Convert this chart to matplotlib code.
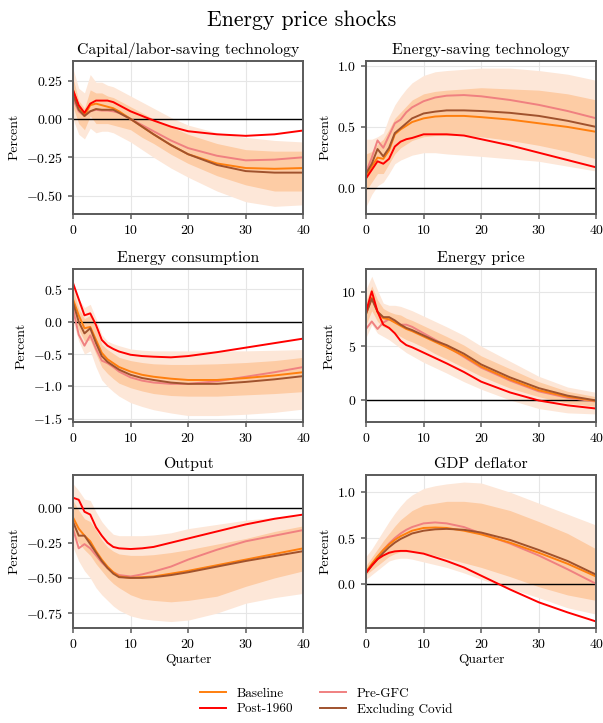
import matplotlib
matplotlib.use('Agg')
import matplotlib.pyplot as plt

plt.rcParams.update({
    'font.family': 'serif',
    'font.serif': ['cmr10', 'DejaVu Serif'],
    'mathtext.fontset': 'cm',
    'axes.formatter.use_mathtext': True,
    'font.size': 10,
    'axes.edgecolor': '#5a5a5a',
    'axes.linewidth': 1.4,
})

ORANGE = '#ff7f0e'
RED = '#ff0000'
SALMON = '#f08080'
BROWN = '#a0522d'
BAND_OUT = '#fde7d8'
BAND_IN = '#fdcca5'

Q = [0, 1, 2, 3, 4, 5, 6, 7, 8, 10, 12, 14, 17, 20, 25, 30, 35, 40]

titles = ['Capital/labor-saving technology', 'Energy-saving technology',
          'Energy consumption', 'Energy price', 'Output', 'GDP deflator']

# ---- Capital/labor-saving technology
cap_base = [0.19, 0.08, 0.02, 0.09, 0.10, 0.09, 0.08, 0.07, 0.05, 0.00, -0.05, -0.10, -0.17, -0.23, -0.29, -0.32, -0.325, -0.32]
cap_post = [0.19, 0.09, 0.04, 0.10, 0.12, 0.12, 0.12, 0.11, 0.09, 0.05, 0.02, -0.01, -0.05, -0.08, -0.10, -0.11, -0.10, -0.075]
cap_pre = [0.13, 0.05, 0.02, 0.05, 0.06, 0.055, 0.055, 0.05, 0.04, 0.00, -0.04, -0.08, -0.14, -0.19, -0.24, -0.27, -0.265, -0.25]
cap_excl = [0.16, 0.06, 0.02, 0.05, 0.065, 0.06, 0.06, 0.06, 0.04, 0.00, -0.05, -0.10, -0.17, -0.23, -0.30, -0.34, -0.35, -0.35]
cap_hi90 = [0.33, 0.20, 0.17, 0.29, 0.24, 0.24, 0.22, 0.21, 0.19, 0.15, 0.11, 0.07, 0.01, -0.04, -0.09, -0.12, -0.14, -0.15]
cap_lo90 = [0.0, -0.10, -0.13, -0.06, -0.09, -0.08, -0.08, -0.09, -0.11, -0.15, -0.20, -0.25, -0.32, -0.38, -0.47, -0.54, -0.57, -0.56]
cap_hi68 = [0.27, 0.12, 0.07, 0.19, 0.17, 0.17, 0.15, 0.14, 0.12, 0.08, 0.04, 0.0, -0.05, -0.10, -0.16, -0.20, -0.21, -0.21]
cap_lo68 = [0.08, -0.03, -0.07, 0.02, -0.03, -0.03, -0.03, -0.04, -0.05, -0.07, -0.12, -0.16, -0.23, -0.29, -0.37, -0.43, -0.47, -0.47]

# ---- Energy-saving technology
es_base = [0.10, 0.18, 0.25, 0.24, 0.31, 0.44, 0.48, 0.51, 0.54, 0.57, 0.585, 0.59, 0.59, 0.58, 0.56, 0.53, 0.50, 0.46]
es_post = [0.08, 0.15, 0.22, 0.20, 0.24, 0.34, 0.38, 0.40, 0.41, 0.44, 0.44, 0.44, 0.43, 0.40, 0.35, 0.29, 0.23, 0.17]
es_pre = [0.13, 0.25, 0.39, 0.33, 0.43, 0.53, 0.56, 0.62, 0.66, 0.71, 0.74, 0.755, 0.76, 0.75, 0.72, 0.68, 0.63, 0.57]
es_excl = [0.12, 0.20, 0.32, 0.26, 0.33, 0.45, 0.49, 0.53, 0.57, 0.61, 0.625, 0.635, 0.635, 0.63, 0.615, 0.59, 0.55, 0.50]
es_hi90 = [0.40, 0.40, 0.42, 0.45, 0.58, 0.68, 0.75, 0.81, 0.86, 0.92, 0.95, 0.96, 0.97, 0.98, 0.98, 0.96, 0.93, 0.88]
es_lo90 = [-0.15, -0.05, 0.02, 0.05, 0.12, 0.20, 0.23, 0.25, 0.27, 0.29, 0.29, 0.28, 0.27, 0.26, 0.24, 0.22, 0.18, 0.14]
es_hi68 = [0.28, 0.30, 0.36, 0.40, 0.48, 0.57, 0.62, 0.67, 0.72, 0.77, 0.79, 0.80, 0.81, 0.82, 0.81, 0.80, 0.77, 0.72]
es_lo68 = [-0.02, 0.05, 0.12, 0.12, 0.20, 0.28, 0.33, 0.36, 0.39, 0.42, 0.43, 0.43, 0.43, 0.42, 0.39, 0.35, 0.30, 0.24]

# ---- Energy consumption
ec_base = [0.35, 0.10, -0.10, -0.08, -0.28, -0.48, -0.58, -0.64, -0.70, -0.77, -0.82, -0.85, -0.88, -0.90, -0.90, -0.87, -0.83, -0.78]
ec_post = [0.60, 0.35, 0.10, 0.13, -0.05, -0.28, -0.37, -0.42, -0.46, -0.51, -0.53, -0.54, -0.55, -0.53, -0.47, -0.40, -0.33, -0.26]
ec_pre = [0.20, -0.20, -0.37, -0.21, -0.42, -0.60, -0.64, -0.70, -0.77, -0.86, -0.91, -0.94, -0.96, -0.96, -0.92, -0.85, -0.78, -0.70]
ec_excl = [0.30, 0.00, -0.18, -0.10, -0.33, -0.53, -0.62, -0.68, -0.74, -0.82, -0.87, -0.90, -0.94, -0.96, -0.96, -0.93, -0.89, -0.84]
ec_hi90 = [0.65, 0.35, 0.22, 0.27, 0.05, -0.20, -0.30, -0.34, -0.37, -0.42, -0.44, -0.45, -0.45, -0.45, -0.45, -0.45, -0.44, -0.43]
ec_lo90 = [0.0, -0.30, -0.50, -0.45, -0.70, -0.90, -1.00, -1.08, -1.15, -1.25, -1.31, -1.36, -1.41, -1.45, -1.45, -1.43, -1.40, -1.35]
ec_hi68 = [0.50, 0.20, 0.05, 0.10, -0.10, -0.35, -0.43, -0.49, -0.55, -0.60, -0.63, -0.65, -0.66, -0.66, -0.65, -0.63, -0.60, -0.55]
ec_lo68 = [0.15, -0.12, -0.30, -0.28, -0.50, -0.70, -0.80, -0.88, -0.95, -1.02, -1.07, -1.11, -1.14, -1.15, -1.15, -1.13, -1.11, -1.08]

# ---- Energy price
ep_base = [8.0, 9.5, 8.2, 7.6, 7.5, 7.2, 6.9, 6.6, 6.4, 5.9, 5.4, 4.9, 4.1, 3.1, 1.9, 0.9, 0.3, -0.1]
ep_post = [8.2, 10.1, 8.2, 7.0, 6.7, 6.2, 5.5, 5.1, 4.9, 4.4, 3.9, 3.4, 2.6, 1.7, 0.7, -0.05, -0.5, -0.8]
ep_pre = [6.6, 7.3, 6.6, 7.2, 7.5, 7.3, 7.0, 7.0, 6.8, 6.2, 5.6, 5.0, 4.0, 3.0, 1.8, 0.8, 0.2, -0.15]
ep_excl = [8.0, 9.4, 8.2, 7.7, 7.7, 7.4, 7.0, 6.7, 6.5, 6.0, 5.5, 5.1, 4.3, 3.3, 2.1, 1.1, 0.4, -0.05]
ep_hi90 = [10.3, 11.5, 10.2, 9.0, 8.8, 8.8, 8.7, 8.5, 8.3, 7.8, 7.3, 6.8, 6.0, 5.0, 3.6, 2.2, 1.2, 0.7]
ep_lo90 = [5.8, 7.0, 6.2, 5.9, 5.6, 5.2, 4.8, 4.4, 4.1, 3.5, 3.0, 2.5, 1.7, 1.0, 0.0, -0.8, -1.2, -1.3]
ep_hi68 = [9.2, 10.6, 9.3, 8.5, 8.2, 8.0, 7.9, 7.6, 7.4, 6.9, 6.4, 5.9, 5.1, 4.1, 2.9, 1.7, 0.8, 0.3]
ep_lo68 = [7.0, 8.3, 7.3, 6.8, 6.6, 6.2, 5.9, 5.6, 5.4, 4.9, 4.3, 3.8, 3.0, 2.2, 1.1, 0.3, -0.3, -0.6]

# ---- Output
out_base = [-0.07, -0.15, -0.20, -0.24, -0.31, -0.37, -0.42, -0.46, -0.49, -0.50, -0.495, -0.49, -0.47, -0.45, -0.41, -0.37, -0.33, -0.29]
out_post = [0.07, 0.055, -0.03, -0.05, -0.14, -0.20, -0.25, -0.28, -0.29, -0.295, -0.29, -0.28, -0.25, -0.22, -0.17, -0.12, -0.08, -0.05]
out_pre = [-0.15, -0.29, -0.26, -0.29, -0.34, -0.39, -0.43, -0.46, -0.48, -0.49, -0.475, -0.455, -0.42, -0.37, -0.30, -0.24, -0.20, -0.16]
out_excl = [-0.10, -0.20, -0.20, -0.26, -0.32, -0.38, -0.43, -0.47, -0.495, -0.50, -0.50, -0.495, -0.48, -0.46, -0.42, -0.38, -0.345, -0.31]
out_hi90 = [0.17, 0.12, 0.06, 0.05, -0.03, -0.10, -0.15, -0.19, -0.20, -0.20, -0.20, -0.195, -0.18, -0.15, -0.12, -0.09, -0.07, -0.06]
out_lo90 = [-0.28, -0.38, -0.45, -0.50, -0.57, -0.62, -0.66, -0.70, -0.73, -0.77, -0.79, -0.80, -0.81, -0.80, -0.75, -0.68, -0.64, -0.61]
out_hi68 = [0.05, -0.02, -0.08, -0.10, -0.16, -0.23, -0.28, -0.31, -0.33, -0.34, -0.34, -0.335, -0.32, -0.30, -0.26, -0.22, -0.17, -0.13]
out_lo68 = [-0.18, -0.25, -0.30, -0.34, -0.40, -0.45, -0.50, -0.54, -0.57, -0.62, -0.65, -0.66, -0.67, -0.66, -0.63, -0.56, -0.50, -0.45]

# ---- GDP deflator
gd_base = [0.13, 0.22, 0.30, 0.37, 0.43, 0.48, 0.52, 0.55, 0.58, 0.61, 0.615, 0.61, 0.58, 0.54, 0.45, 0.34, 0.22, 0.08]
gd_post = [0.12, 0.20, 0.27, 0.31, 0.34, 0.355, 0.36, 0.36, 0.35, 0.33, 0.29, 0.25, 0.18, 0.09, -0.06, -0.20, -0.31, -0.41]
gd_pre = [0.13, 0.21, 0.29, 0.37, 0.44, 0.50, 0.55, 0.59, 0.62, 0.66, 0.67, 0.66, 0.62, 0.55, 0.44, 0.31, 0.16, 0.0]
gd_excl = [0.12, 0.20, 0.27, 0.34, 0.40, 0.45, 0.49, 0.52, 0.55, 0.58, 0.595, 0.60, 0.59, 0.56, 0.48, 0.37, 0.25, 0.10]
gd_hi90 = [0.30, 0.38, 0.48, 0.58, 0.68, 0.77, 0.85, 0.92, 0.97, 1.04, 1.07, 1.09, 1.11, 1.10, 1.00, 0.88, 0.76, 0.64]
gd_lo90 = [0.05, 0.10, 0.15, 0.20, 0.25, 0.27, 0.28, 0.28, 0.27, 0.24, 0.21, 0.18, 0.12, 0.05, -0.05, -0.15, -0.26, -0.33]
gd_hi68 = [0.20, 0.29, 0.38, 0.47, 0.55, 0.63, 0.70, 0.75, 0.80, 0.86, 0.88, 0.90, 0.90, 0.88, 0.80, 0.68, 0.55, 0.38]
gd_lo68 = [0.10, 0.15, 0.20, 0.25, 0.30, 0.33, 0.35, 0.35, 0.35, 0.34, 0.31, 0.28, 0.23, 0.18, 0.08, -0.03, -0.12, -0.18]

panels = [
    (cap_base, cap_post, cap_pre, cap_excl, cap_hi90, cap_lo90, cap_hi68, cap_lo68),
    (es_base, es_post, es_pre, es_excl, es_hi90, es_lo90, es_hi68, es_lo68),
    (ec_base, ec_post, ec_pre, ec_excl, ec_hi90, ec_lo90, ec_hi68, ec_lo68),
    (ep_base, ep_post, ep_pre, ep_excl, ep_hi90, ep_lo90, ep_hi68, ep_lo68),
    (out_base, out_post, out_pre, out_excl, out_hi90, out_lo90, out_hi68, out_lo68),
    (gd_base, gd_post, gd_pre, gd_excl, gd_hi90, gd_lo90, gd_hi68, gd_lo68),
]

ylims = [(-0.62, 0.38), (-0.21, 1.04), (-1.55, 0.82), (-2.05, 12.2), (-0.856, 0.233), (-0.48, 1.19)]
yticks = [[-0.5, -0.25, 0.0, 0.25], [0.0, 0.5, 1.0], [-1.5, -1.0, -0.5, 0.0, 0.5],
          [0, 5, 10], [-0.75, -0.5, -0.25, 0.0], [0.0, 0.5, 1.0]]
yfmt = ['%.2f', '%.1f', '%.1f', '%d', '%.2f', '%.1f']

fig = plt.figure(figsize=(6.03, 7.23), dpi=100)
lefts = [0.121, 0.607]
bottoms = [0.704, 0.4163, 0.1314]

for i, data in enumerate(panels):
    r, c = divmod(i, 2)
    ax = fig.add_axes([lefts[c], bottoms[r], 0.382, 0.212])
    base, post, pre, excl, hi90, lo90, hi68, lo68 = data
    ax.grid(True, color='#e6e6e6', linewidth=0.8)
    ax.set_axisbelow(True)
    ax.fill_between(Q, lo90, hi90, color=BAND_OUT, linewidth=0)
    ax.fill_between(Q, lo68, hi68, color=BAND_IN, linewidth=0)
    ax.axhline(0, color='black', linewidth=1.0)
    ax.plot(Q, pre, color=SALMON, lw=1.4)
    ax.plot(Q, base, color=ORANGE, lw=1.4)
    ax.plot(Q, excl, color=BROWN, lw=1.4)
    ax.plot(Q, post, color=RED, lw=1.4)
    ax.set_xlim(0, 40)
    ax.set_xticks([0, 10, 20, 30, 40])
    ax.set_ylim(*ylims[i])
    ax.set_yticks(yticks[i])
    ax.set_yticklabels(['$%s$' % (yfmt[i] % v) for v in yticks[i]])
    ax.set_title(titles[i], fontsize=11.4, pad=5)
    ax.set_ylabel('Percent', fontsize=10)
    ax.tick_params(labelsize=10, length=3.5, width=1.1, color='#5a5a5a')
    if r == 2:
        ax.set_xlabel('Quarter', fontsize=9.7, labelpad=2)

fig.suptitle('Energy price shocks', fontsize=15.7, y=0.985)

handles = [plt.Line2D([], [], color=ORANGE, lw=1.4), plt.Line2D([], [], color=RED, lw=1.4),
           plt.Line2D([], [], color=SALMON, lw=1.4), plt.Line2D([], [], color=BROWN, lw=1.4)]
labels = ['Baseline', 'Post-1960', 'Pre-GFC', 'Excluding Covid']
fig.legend(handles, labels, loc='center', bbox_to_anchor=(0.541, 0.0297), ncol=2,
           frameon=False, fontsize=9.5, handlelength=2.0, handletextpad=0.8,
           columnspacing=2.0, labelspacing=0.25)

fig.savefig('out.png', dpi=100)
